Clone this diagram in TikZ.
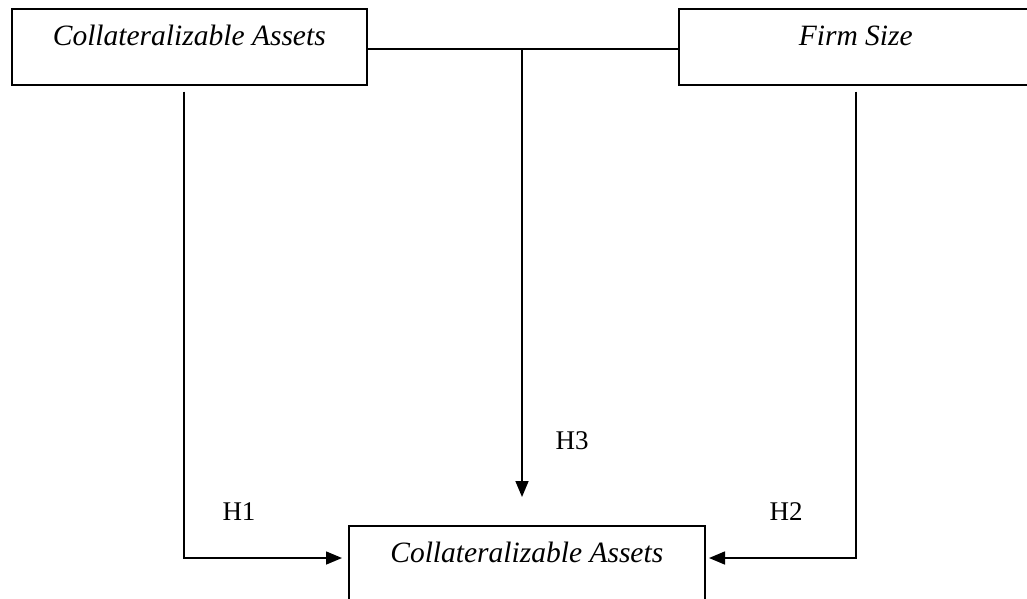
\documentclass[tikz,border=0pt]{standalone}
\usepackage{fontspec}
\setmainfont{Liberation Serif}
\usetikzlibrary{arrows.meta,calc}
\newcommand{\linecolor}{black}
\newcommand{\thickness}{1.6pt}
\newcommand{\gap}{6pt}
\tikzset{
  varbox/.style={draw=\linecolor, line width=\thickness, rectangle, inner sep=0pt,
    text height=37pt, text depth=39pt, font=\fontsize{29.5}{34}\selectfont\itshape},
  link/.style={draw=\linecolor, line width=\thickness},
  hyp/.style={link, -{Triangle[length=16pt,width=13pt]}},
  hlabel/.style={font=\fontsize{27}{32}\selectfont, inner sep=0pt}
}

\begin{document}
\begin{tikzpicture}[x=1pt,y=-1pt]
\useasboundingbox (0,0) rectangle (1027,598);
\node[varbox, minimum width=355pt, anchor=north west] (ca) at (11,8) {Collateralizable Assets};
\node[varbox, minimum width=354pt, anchor=north west] (fs) at (678,8) {Firm Size};
\node[varbox, minimum width=356pt, text depth=70pt, anchor=north west] (ca2) at (348,525) {Collateralizable Assets};
\coordinate (j) at (522,49);
\coordinate (h1end) at (342,558);
\coordinate (h2end) at (709,558);
%moderation
\draw[link] (ca.east |- j) -- (fs.west |- j);
\draw[hyp] (j) -- ([yshift=28pt]ca2.north -| j);
%direct effects
\draw[hyp] ([xshift=-5.5pt,yshift=-\gap]ca.south) |- (h1end);
\draw[hyp] ([yshift=-\gap]fs.south) |- (h2end);
\node[hlabel] (h1) at (239,512) {H1};
\node[hlabel] (h2) at (786,512) {H2};
\node[hlabel] (h3) at (572,441) {H3};
\end{tikzpicture}
\end{document}
